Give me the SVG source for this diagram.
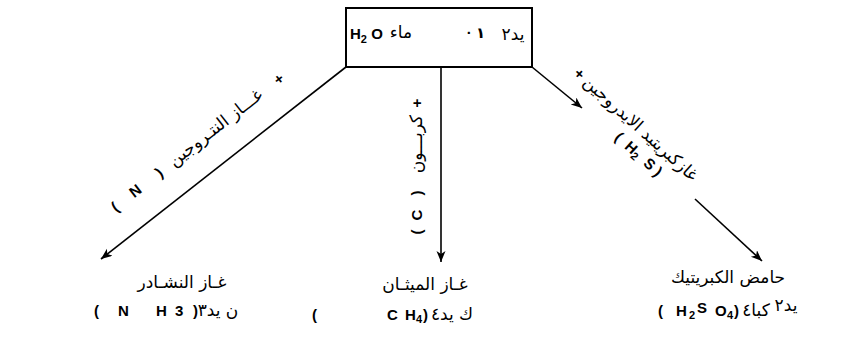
<svg xmlns="http://www.w3.org/2000/svg" width="854" height="342" viewBox="0 0 854 342">
<style>
.ln{stroke:#000;stroke-width:1.6;fill:none}
.ar{font-family:"DejaVu Sans",sans-serif;font-size:17px;fill:#000}
.la{font-family:"Liberation Sans","DejaVu Sans",sans-serif;font-size:15px;font-weight:bold;fill:#000}
.sub{font-size:11px}
</style>
<defs>
<marker id="ah" markerWidth="12" markerHeight="10" refX="11" refY="4.5" orient="auto" markerUnits="userSpaceOnUse">
<path d="M0,0 L11,4.5 L0,9 L3,4.5 z" fill="#000"/>
</marker>
</defs>
<rect width="854" height="342" fill="#fff"/>

<g id="water">
<rect x="346" y="8" width="186" height="59" fill="#fff" stroke="#000" stroke-width="2"/>
<text class="la" x="350" y="39" font-weight="normal">H<tspan class="sub" dy="4">2</tspan><tspan dy="-4"> O</tspan></text>
<text class="ar" x="401" y="38" text-anchor="middle">ماء</text>
<text class="la" x="476" y="38" text-anchor="middle">· ١</text>
<text class="ar" x="513" y="40" text-anchor="middle">يد٢</text>
</g>

<g id="connectors">
<line class="ln" x1="346" y1="67" x2="101" y2="259" marker-end="url(#ah)"/>
<line class="ln" x1="441" y1="67" x2="441" y2="262" marker-end="url(#ah)"/>
<line class="ln" x1="532" y1="67" x2="582" y2="108" marker-end="url(#ah)"/>
<line class="ln" x1="695" y1="199" x2="762" y2="261" marker-end="url(#ah)"/>
<g transform="translate(118,211) rotate(-38)">
<text class="la" x="0" y="0" text-anchor="middle">(</text>
<text class="la" x="26" y="0" text-anchor="middle">N</text>
<text class="la" x="56" y="0" text-anchor="middle">)</text>
<text class="ar" x="128" y="0" text-anchor="middle">غـــاز النتـروجين</text>
<text class="la" x="208" y="0" text-anchor="middle">+</text>
</g>
<g transform="translate(422,240) rotate(-90)">
<text class="la" x="8" y="0" text-anchor="middle">(</text>
<text class="la" x="25" y="0" text-anchor="middle">C</text>
<text class="la" x="47" y="0" text-anchor="middle">)</text>
<text class="ar" x="96" y="0" text-anchor="middle">كربـــون</text>
<text class="la" x="137" y="0" text-anchor="middle">+</text>
</g>
<g transform="translate(573,75) rotate(42)">
<text class="la" x="4" y="0" text-anchor="middle">+</text>
<text class="ar" x="86" y="0" text-anchor="middle" font-size="15">غازكبريتيد الايدروجين</text>
<text class="la" x="73" y="20" xml:space="preserve">(  H<tspan class="sub" dy="3">2</tspan><tspan dy="-3">  S )</tspan></text>
</g>
</g>

<g id="ammonia">
<text class="ar" x="182" y="288" text-anchor="middle" font-size="18">غـاز النشـادر</text>
<text class="la"><tspan x="94" y="316">(</tspan><tspan x="118" y="316">N</tspan><tspan x="156" y="316">H</tspan><tspan x="175" y="316">3</tspan><tspan x="193" y="316">)</tspan></text>
<text class="ar" x="218" y="316" text-anchor="middle">ن يد٣</text>
</g>

<g id="methane">
<text class="ar" x="425" y="290" text-anchor="middle" font-size="18">غـاز الميثـان</text>
<text class="la"><tspan x="312" y="320">(</tspan><tspan x="387" y="320">C</tspan><tspan x="405" y="320">H</tspan><tspan class="sub" x="416" y="323">4</tspan><tspan x="423" y="320">)</tspan></text>
<text class="ar" x="452" y="320" text-anchor="middle">ك يد٤</text>
</g>

<g id="sulfuric">
<text class="ar" x="728" y="283" text-anchor="middle" font-size="16">حامض الكبريتيك</text>
<text class="la"><tspan x="658" y="316">(</tspan><tspan x="676" y="316">H</tspan><tspan class="sub" x="689" y="319">2</tspan><tspan x="697" y="313">S</tspan><tspan x="715" y="316">O</tspan><tspan class="sub" x="727" y="319">4</tspan><tspan x="734" y="316">)</tspan></text>
<text class="ar" x="756" y="316" text-anchor="middle" font-size="13">كبا٤</text>
<text class="ar" x="786" y="311" text-anchor="middle" font-size="12">يد٢</text>
</g>
</svg>
